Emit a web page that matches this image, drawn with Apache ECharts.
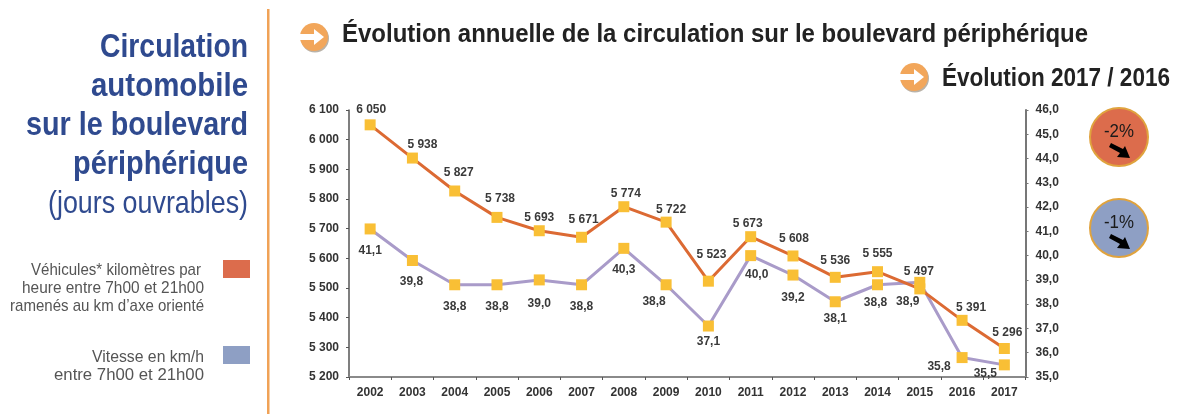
<!DOCTYPE html>
<html>
<head>
<meta charset="utf-8">
<style>
html, body { margin: 0; padding: 0; background: #fff; }
#chart { width: 1179px; height: 414px; }
</style>
<script src="https://cdn.jsdelivr.net/npm/echarts@6/dist/echarts.min.js"></script>
</head>
<body>
<div id="chart"></div>
<script>
var years = ['2002','2003','2004','2005','2006','2007','2008','2009','2010','2011','2012','2013','2014','2015','2016','2017'];
var kilometres = [6050,5938,5827,5738,5693,5671,5774,5722,5523,5673,5608,5536,5555,5497,5391,5296];
var vitesse = [41.1,39.8,38.8,38.8,39.0,38.8,40.3,38.8,37.1,40.0,39.2,38.1,38.8,38.9,35.8,35.5];

var plain = '"Liberation Sans", sans-serif';
var blue = '#2f4a8f';
var orange = '#dc6a33';
var purple = '#a99bc9';
var yellow = '#f9bf35';

// decalage des etiquettes, placees a la main sur l'original
var offsetsKm = [[1,2],[10,4],[4,-1],[3,-1],[0,4],[2,0],[2,4],[5,5],[3,-9],[-3,5],[1,0],[0,1],[0,0],[-1,0],[9,5],[3,2]];
var offsetsVitesse = [[0,2],[-1,2],[0,2],[0,2],[0,4],[0,2],[0,2],[-12,-3],[0,-4],[6,0],[0,3],[0,-3],[-2,-2],[-12,0],[-23,-10],[-19,-11]];

function thousands(v) {
  var s = String(v);
  return s.slice(0, 1) + ' ' + s.slice(1);
}
function comma(v) {
  return v.toFixed(1).replace('.', ',');
}

var ctx = document.createElement('canvas').getContext('2d');
// texte resserre pour tenir dans la largeur voulue (pas de police condensee)
function textEl(x, y, str, size, weight, color, align, width) {
  ctx.font = weight + ' ' + size + 'px ' + plain;
  return {
    type: 'text', x: x, y: y,
    scaleX: width / ctx.measureText(str).width,
    style: { text: str, fontSize: size, fontWeight: weight, fill: color, align: align, verticalAlign: 'middle', fontFamily: plain }
  };
}
function arrowIcon(cx, cy) {
  return {
    type: 'group', x: cx, y: cy,
    children: [
      { type: 'circle', x: 1, y: 1.5, shape: { r: 14 }, style: { fill: '#b9b2a8' } },
      { type: 'circle', shape: { r: 14 }, style: { fill: '#f2a65a' } },
      { type: 'polygon', shape: { points: [[-14,-3],[0,-3],[0,-8],[10,0],[0,8],[0,3],[-14,3]] }, style: { fill: '#fff' } }
    ]
  };
}
function badge(cy, color, str) {
  return {
    type: 'group', x: 1119, y: cy,
    children: [
      { type: 'circle', shape: { r: 29 }, style: { fill: color, stroke: '#e0a33e', lineWidth: 2 } },
      textEl(0, -5, str, 18, 'normal', '#1a1a1a', 'center', 30),
      { type: 'polygon', shape: { points: [[-10,10],[-8,6],[4,12],[6,9],[11,21],[-2,20],[1,16]] }, style: { fill: '#000' } }
    ]
  };
}

var chart = echarts.init(document.getElementById('chart'));
chart.setOption({
  animation: false,
  backgroundColor: '#fff',
  grid: { left: 349, right: 153.5, top: 110, bottom: 37 },
  xAxis: {
    type: 'category',
    data: years,
    axisLine: { lineStyle: { color: '#8a8a8a', width: 2 } },
    axisTick: { show: true, length: 3, lineStyle: { color: '#555' } },
    axisLabel: { color: '#333', fontSize: 12, fontWeight: 'bold', fontFamily: plain, margin: 10 }
  },
  yAxis: [{
    type: 'value', min: 5200, max: 6100, interval: 100,
    axisLine: { show: true, lineStyle: { color: '#555', width: 1.5 } },
    axisTick: { show: true, length: 3, lineStyle: { color: '#555' } },
    splitLine: { show: false },
    axisLabel: { color: '#333', fontSize: 12, fontWeight: 'bold', fontFamily: plain, margin: 10, formatter: thousands }
  }, {
    type: 'value', min: 35, max: 46, interval: 1, position: 'right',
    axisLine: { show: true, lineStyle: { color: '#777', width: 2 } },
    axisTick: { show: true, length: 3, lineStyle: { color: '#777' } },
    splitLine: { show: false },
    axisLabel: { color: '#333', fontSize: 12, fontWeight: 'bold', fontFamily: plain, margin: 10, formatter: comma }
  }],
  series: [{
    name: 'Vitesse',
    type: 'line',
    yAxisIndex: 1,
    data: vitesse.map(function (v, i) {
      return { value: v, label: { offset: offsetsVitesse[i] } };
    }),
    symbol: 'rect', symbolSize: 11,
    lineStyle: { color: purple, width: 3 },
    itemStyle: { color: yellow },
    label: { show: true, position: 'bottom', distance: 8, color: '#3a3a3a', fontSize: 12, fontWeight: 'bold', fontFamily: plain, formatter: function (p) { return comma(p.value); } }
  }, {
    name: 'Kilometres',
    type: 'line',
    data: kilometres.map(function (v, i) {
      return { value: v, label: { offset: offsetsKm[i] } };
    }),
    symbol: 'rect', symbolSize: 11,
    lineStyle: { color: orange, width: 3 },
    itemStyle: { color: yellow },
    label: { show: true, position: 'top', distance: 6, color: '#3a3a3a', fontSize: 12, fontWeight: 'bold', fontFamily: plain, formatter: function (p) { return thousands(p.value); } }
  }],
  graphic: [
    { type: 'rect', shape: { x: 267, y: 9, width: 2.5, height: 405 }, style: { fill: '#f0a257' } },
    textEl(248, 48, 'Circulation', 34, 'bold', blue, 'right', 148),
    textEl(248, 87, 'automobile', 34, 'bold', blue, 'right', 157),
    textEl(248, 126, 'sur le boulevard', 34, 'bold', blue, 'right', 222),
    textEl(248, 165, 'périphérique', 34, 'bold', blue, 'right', 175),
    textEl(248, 204, '(jours ouvrables)', 32, 'normal', blue, 'right', 200),
    textEl(201, 270, 'Véhicules* kilomètres par', 17, 'normal', '#555', 'right', 170),
    textEl(204, 288, 'heure entre 7h00 et 21h00', 17, 'normal', '#555', 'right', 182),
    textEl(204, 306, 'ramenés au km d’axe orienté', 17, 'normal', '#555', 'right', 194),
    textEl(204, 357, 'Vitesse en km/h', 17, 'normal', '#555', 'right', 112),
    textEl(204, 375, 'entre 7h00 et 21h00', 17, 'normal', '#555', 'right', 150),
    { type: 'rect', shape: { x: 223, y: 260, width: 27, height: 18 }, style: { fill: '#dc6c4c' } },
    { type: 'rect', shape: { x: 223, y: 346, width: 27, height: 18 }, style: { fill: '#8e9fc4' } },
    arrowIcon(314, 37),
    textEl(342, 35, 'Évolution annuelle de la circulation sur le boulevard périphérique', 26, 'bold', '#222', 'left', 746),
    arrowIcon(914, 77),
    textEl(942, 79, 'Évolution 2017 / 2016', 26, 'bold', '#222', 'left', 228),
    badge(137, '#dc6c4c', '-2%'),
    badge(228, '#8e9fc4', '-1%')
  ]
});
</script>
</body>
</html>
